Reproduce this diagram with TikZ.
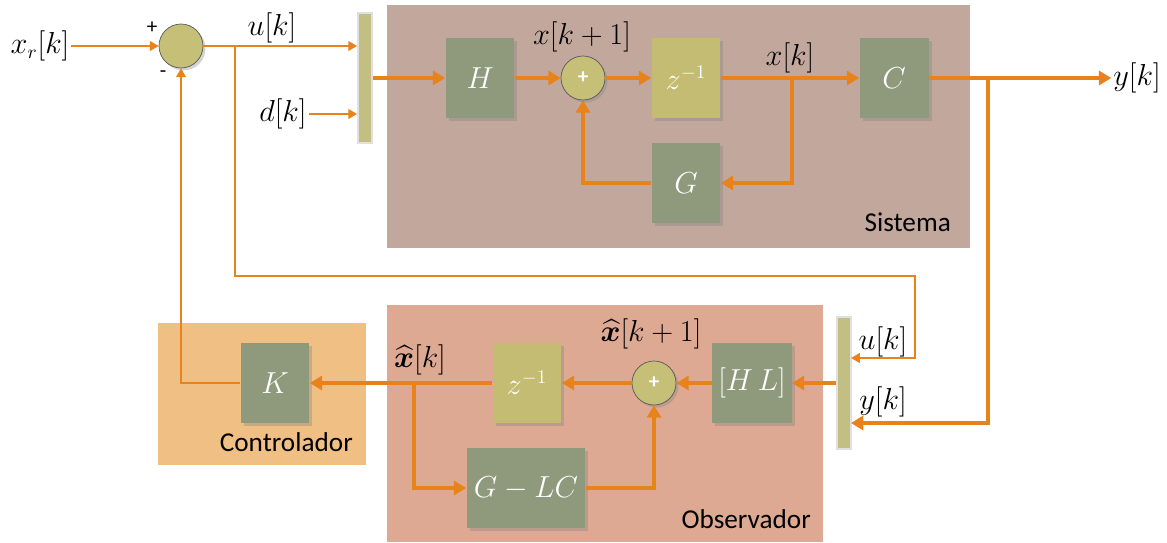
\documentclass[tikz,border=0pt]{standalone}
\usepackage{amsmath,bm}
\usepackage{fontspec}
\newfontfamily\panelfont{Carlito}
\usetikzlibrary{shadows,arrows.meta}

\definecolor{sysbg}{HTML}{C2A89C}
\definecolor{obsbg}{HTML}{DDA993}
\definecolor{ctlbg}{HTML}{F0BF84}
\definecolor{blockgreen}{HTML}{8E9A7B}
\definecolor{blockyellow}{HTML}{C4BC72}
\definecolor{sumfill}{HTML}{C5BF78}
\definecolor{muxfill}{HTML}{C3BE82}
\definecolor{wire}{HTML}{E8831C}

\tikzset{
  block/.style={rectangle, fill=blockgreen, minimum width=1.38cm, minimum height=1.6cm,
    text=white, font=\fontsize{16}{19}\selectfont,
    drop shadow={opacity=0.35, shadow xshift=0.06cm, shadow yshift=-0.06cm}},
  delay/.style={block, fill=blockyellow},
  sumnode/.style={circle, fill=sumfill, draw=black!65, minimum size=0.88cm, inner sep=0pt,
    text=white, font=\panelfont\bfseries\large,
    drop shadow={opacity=0.35, shadow xshift=0.05cm, shadow yshift=-0.05cm}},
  mux/.style={rectangle, fill=muxfill, draw=black!12, line width=1pt,
    minimum width=0.28cm, inner sep=0pt},
  signal/.style={font=\fontsize{16}{19}\selectfont, inner sep=1pt},
  sign/.style={font=\panelfont\large, inner sep=1pt},
  panellabel/.style={font=\panelfont\fontsize{15.5}{18}\selectfont, anchor=south east},
  thickwire/.style={draw=wire, line width=2.2pt},
  thinwire/.style={draw=wire, line width=1.1pt},
  arr/.style={-{Triangle[length=7pt,width=8pt]}},
  arrs/.style={-{Triangle[length=5pt,width=5.5pt]}},
}

\begin{document}
\begin{tikzpicture}[x=0.02cm, y=-0.02cm]
  \useasboundingbox (0,0) rectangle (1167,542);
  % Panels
  \fill[sysbg] (387,5) rectangle (970,248);
  \fill[obsbg] (387,305) rectangle (823,542);
  \fill[ctlbg] (158,323) rectangle (366,465);
  \node[panellabel] (lsys) at (957,238) {Sistema};
  \node[panellabel] (lobs) at (817,535) {Observador};
  \node[panellabel] (lctl) at (359,458) {Controlador};

  % Input and plant
  \node[signal] (xr) at (40,46) {$x_r[k]$};
  \node[sumnode] (sumin) at (181,46) {};
  \node[sign] (plus) at (152,28) {+};
  \node[sign] (minus) at (163,74) {-};
  \node[signal] (d) at (283,114) {$d[k]$};
  \node[mux, minimum height=2.6cm] (muxin) at (365,78) {};
  \node[block] (H) at (480,78) {$H$};
  \node[sumnode] (sumsys) at (583,78) {+};
  \node[delay] (zsys) at (686,78) {$z^{-1}$};
  \node[block] (G) at (686,183) {$G$};
  \node[block] (C) at (894,78) {$C$};
  \node[signal] (y) at (1137,78) {$y[k]$};

  % Observer and controller
  \node[mux, minimum height=2.64cm] (muxobs) at (844,383) {};
  \node[block] (HL) at (752,383) {$[H\,L]$};
  \node[sumnode] (sumobs) at (654,383) {+};
  \node[delay] (zobs) at (527,383) {$z^{-1}$};
  \node[block, minimum width=2.38cm] (GLC) at (526,488) {$G-LC$};
  \node[block] (K) at (275,383) {$K$};

  % Signal labels
  \node[signal] (lu) at (272,28) {$u[k]$};
  \node[signal] (lx1) at (582,37) {$x[k+1]$};
  \node[signal] (lx) at (790,58) {$x[k]$};
  \node[signal] (lxh1) at (651,334) {$\widehat{\bm{x}}[k+1]$};
  \node[signal] (lxh) at (420,360) {$\widehat{\bm{x}}[k]$};
  \node[signal] (luo) at (883,342) {$u[k]$};
  \node[signal] (lyo) at (883,402) {$y[k]$};

  % Branch points
  \coordinate (ubr) at (235,46);
  \coordinate (ufb) at (915,276);
  \coordinate (uin) at (851,358);
  \coordinate (xbr) at (792,78);
  \coordinate (ybr) at (988,78);
  \coordinate (yin) at (851,423);
  \coordinate (xhbr) at (414,383);

  % Thin connectors
  \draw[thinwire, arrs] (xr) -- (sumin);
  \draw[thinwire, arrs] (sumin) -- (muxin.west |- sumin);
  \draw[thinwire, arrs] (d) -- (muxin.west |- d);
  \draw[thinwire, arrs] (ubr) |- (ufb) |- (uin);
  \draw[thinwire, arrs] (K.west) -| (sumin.south);

  % Thick connectors
  \draw[thickwire, arr] (muxin) -- (H);
  \draw[thickwire, arr] (H) -- (sumsys);
  \draw[thickwire, arr] (sumsys) -- (zsys);
  \draw[thickwire, arr] (zsys) -- (C);
  \draw[thickwire, arr] (xbr) |- (G);
  \draw[thickwire, arr] (G.west) -| (sumsys.south);
  \draw[thickwire, arr] (C) -- (y);
  \draw[thickwire, arr] (ybr) |- (yin);
  \draw[thickwire, arr] (muxobs) -- (HL);
  \draw[thickwire, arr] (HL) -- (sumobs);
  \draw[thickwire, arr] (sumobs) -- (zobs);
  \draw[thickwire, arr] (zobs) -- (K);
  \draw[thickwire, arr] (xhbr) |- (GLC);
  \draw[thickwire, arr] (GLC.east) -| (sumobs.south);
\end{tikzpicture}
\end{document}
